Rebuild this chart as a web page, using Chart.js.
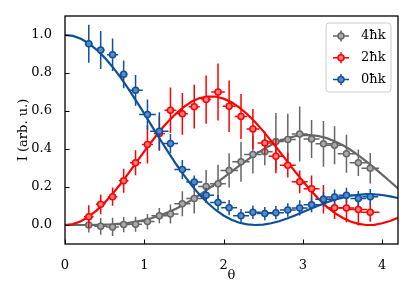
<!DOCTYPE html>
<html>
<head>
<meta charset="utf-8">
<script src="https://cdn.jsdelivr.net/npm/chart.js@4.4.1/dist/chart.umd.min.js"></script>
<style>
  html, body { margin: 0; padding: 0; background: #fff; }
</style>
</head>
<body>
<canvas id="chart" width="415" height="305"></canvas>
<script>
// measured points (theta positions shared by the three series)
const theta = [0.30, 0.45, 0.60, 0.74, 0.89, 1.04, 1.19, 1.33, 1.48, 1.63, 1.78, 1.93, 2.07,
               2.22, 2.37, 2.52, 2.66, 2.81, 2.96, 3.11, 3.26, 3.40, 3.55, 3.70, 3.85];

const gray = [0.000, -0.007, -0.010, 0.002, 0.004, 0.018, 0.049, 0.058, 0.112, 0.140, 0.203, 0.217, 0.287,
              0.333, 0.371, 0.385, 0.439, 0.450, 0.479, 0.453, 0.427, 0.420, 0.375, 0.328, 0.299];
const grayErr = [0.04, 0.044, 0.048, 0.04, 0.04, 0.04, 0.04, 0.05, 0.066, 0.08, 0.087, 0.10, 0.09,
                 0.105, 0.10, 0.07, 0.15, 0.135, 0.145, 0.10, 0.12, 0.10, 0.10, 0.07, 0.08];
const grayXErr = [0.08, 0.08, 0.08, 0.08, 0.08, 0.09, 0.1, 0.1, 0.1, 0.1, 0.1, 0.1, 0.11,
                  0.11, 0.11, 0.1, 0.1, 0.1, 0.1, 0.1, 0.1, 0.11, 0.11, 0.11, 0.11];

const red = [0.044, 0.109, 0.149, 0.233, 0.328, 0.424, 0.481, 0.604, 0.585, 0.623, 0.660, 0.700, 0.625,
             0.571, 0.505, 0.432, 0.362, 0.315, 0.227, 0.191, 0.135, 0.091, 0.089, 0.082, 0.067];
const redErr = [0.06, 0.052, 0.048, 0.063, 0.066, 0.10, 0.09, 0.12, 0.11, 0.115, 0.127, 0.15, 0.135,
                0.118, 0.105, 0.06, 0.09, 0.065, 0.06, 0.07, 0.075, 0.06, 0.075, 0.085, 0.05];
const redXErr = [0.06, 0.06, 0.06, 0.06, 0.07, 0.07, 0.07, 0.075, 0.07, 0.07, 0.06, 0.085, 0.08,
                 0.08, 0.08, 0.09, 0.09, 0.1, 0.1, 0.1, 0.1, 0.1, 0.1, 0.11, 0.115];

const blue = [0.954, 0.921, 0.896, 0.793, 0.709, 0.581, 0.494, 0.429, 0.292, 0.226, 0.156, 0.118, 0.091,
              0.049, 0.067, 0.060, 0.065, 0.079, 0.090, 0.107, 0.135, 0.147, 0.156, 0.139, 0.149];
const blueErr = [0.10, 0.10, 0.086, 0.073, 0.081, 0.08, 0.10, 0.05, 0.05, 0.035, 0.04, 0.04, 0.04,
                 0.035, 0.035, 0.035, 0.035, 0.035, 0.04, 0.04, 0.04, 0.04, 0.04, 0.04, 0.04];
const blueXErr = [0.05, 0.05, 0.07, 0.05, 0.09, 0.105, 0.115, 0.095, 0.1, 0.1, 0.1, 0.1, 0.1,
                  0.1, 0.1, 0.1, 0.1, 0.1, 0.1, 0.1, 0.1, 0.1, 0.1, 0.1, 0.1];

// fitted curves
const curveTheta = [0.0, 0.1, 0.2, 0.3, 0.4, 0.5, 0.6, 0.7, 0.8, 0.9, 1.0, 1.1, 1.2, 1.3, 1.4,
                    1.5, 1.6, 1.7, 1.8, 1.9, 2.0, 2.1, 2.2, 2.3, 2.4, 2.5, 2.6, 2.7, 2.8, 2.9,
                    3.0, 3.1, 3.2, 3.3, 3.4, 3.5, 3.6, 3.7, 3.8, 3.9, 4.0, 4.1, 4.2];
const grayFit = [0, 0, 0, 0, 0.001, 0.002, 0.004, 0.007, 0.011, 0.018, 0.026, 0.037, 0.051, 0.067, 0.086,
                 0.108, 0.132, 0.159, 0.187, 0.218, 0.249, 0.281, 0.312, 0.343, 0.372, 0.398, 0.421, 0.441, 0.456, 0.467,
                 0.473, 0.473, 0.468, 0.457, 0.441, 0.421, 0.396, 0.367, 0.335, 0.301, 0.265, 0.229, 0.193];
const redFit = [0, 0.005, 0.020, 0.044, 0.077, 0.117, 0.164, 0.216, 0.272, 0.330, 0.387, 0.443, 0.497, 0.545, 0.587,
                0.622, 0.650, 0.668, 0.676, 0.676, 0.665, 0.646, 0.618, 0.583, 0.541, 0.494, 0.443, 0.390, 0.336, 0.282,
                0.230, 0.181, 0.137, 0.097, 0.064, 0.038, 0.018, 0.006, 0.000, 0.001, 0.009, 0.021, 0.038];
const blueFit = [1.000, 0.995, 0.980, 0.956, 0.922, 0.881, 0.832, 0.777, 0.716, 0.652, 0.586, 0.518, 0.450, 0.385, 0.321,
                 0.262, 0.207, 0.158, 0.116, 0.079, 0.050, 0.028, 0.012, 0.003, 0.000, 0.002, 0.009, 0.020, 0.034, 0.050,
                 0.068, 0.085, 0.103, 0.119, 0.133, 0.144, 0.154, 0.159, 0.162, 0.161, 0.158, 0.151, 0.142];

const seriesLabels = ['4ħk', '2ħk', '0ħk'];
const xTicks = [0, 1, 2, 3, 4];
const yTicks = [0.0, 0.2, 0.4, 0.6, 0.8, 1.0];

const FONT = 'DejaVu Serif';
const series = [
    { label: seriesLabels[0], color: '#666666', fill: '#aaaaaa', y: gray, yErr: grayErr, xErr: grayXErr, fit: grayFit },
    { label: seriesLabels[1], color: '#ff0000', fill: '#ff7a7a', y: red, yErr: redErr, xErr: redXErr, fit: redFit },
    { label: seriesLabels[2], color: '#0f509b', fill: '#5b8bc6', y: blue, yErr: blueErr, xErr: blueXErr, fit: blueFit }
];

const datasets = [];
series.forEach((s, k) => {
    const depth = (series.length - 1 - k) * 2; // lower order draws on top
    datasets.push({
        type: 'scatter',
        label: s.label,
        data: theta.map((t, i) => ({ x: t, y: s.y[i] })),
        yErr: s.yErr,
        xErr: s.xErr,
        borderColor: s.color,
        backgroundColor: s.fill,
        pointRadius: 3,
        pointBorderWidth: 1.5,
        order: depth
    });
    datasets.push({
        type: 'line',
        label: s.label + ' fit',
        data: curveTheta.map((t, i) => ({ x: t, y: s.fit[i] })),
        borderColor: s.color,
        borderWidth: 2.2,
        pointRadius: 0,
        tension: 0,
        fill: false,
        order: depth + 1
    });
});

// draw error bars just before the markers of each dataset
const errorBars = {
    id: 'errorBars',
    beforeDatasetDraw(chart, args) {
        const ds = chart.data.datasets[args.index];
        if (!ds.yErr) return;
        const { ctx, chartArea: ca, scales: { x, y } } = chart;
        ctx.save();
        ctx.beginPath();
        ctx.rect(ca.left, ca.top, ca.width, ca.height);
        ctx.clip();
        ctx.strokeStyle = ds.borderColor;
        ctx.lineWidth = 1.5;
        ds.data.forEach((p, i) => {
            const px = x.getPixelForValue(p.x);
            const py = y.getPixelForValue(p.y);
            ctx.beginPath();
            ctx.moveTo(px, y.getPixelForValue(p.y - ds.yErr[i]));
            ctx.lineTo(px, y.getPixelForValue(p.y + ds.yErr[i]));
            ctx.moveTo(x.getPixelForValue(p.x - ds.xErr[i]), py);
            ctx.lineTo(x.getPixelForValue(p.x + ds.xErr[i]), py);
            ctx.stroke();
        });
        ctx.restore();
    }
};

// frame with inward ticks, then the legend box
const frame = {
    id: 'frame',
    afterDraw(chart) {
        const { ctx, chartArea: ca, scales: { x, y } } = chart;
        ctx.save();
        ctx.strokeStyle = '#000';
        ctx.lineWidth = 1;
        x.ticks.forEach(t => {
            const px = Math.round(x.getPixelForValue(t.value)) + 0.5;
            ctx.beginPath();
            ctx.moveTo(px, ca.bottom);
            ctx.lineTo(px, ca.bottom - 4.5);
            ctx.stroke();
        });
        y.ticks.forEach(t => {
            const py = Math.round(y.getPixelForValue(t.value)) + 0.5;
            ctx.beginPath();
            ctx.moveTo(ca.left, py);
            ctx.lineTo(ca.left + 4.5, py);
            ctx.stroke();
        });
        ctx.lineWidth = 1.3;
        ctx.strokeRect(ca.left, ca.top, ca.width, ca.height);

        // legend
        const w = 65, h = 69;
        const bx = ca.right - 7 - w, by = ca.top + 7;
        ctx.beginPath();
        ctx.roundRect(bx, by, w, h, 3);
        ctx.fillStyle = 'rgba(255,255,255,0.8)';
        ctx.fill();
        ctx.strokeStyle = '#cccccc';
        ctx.lineWidth = 1;
        ctx.stroke();
        series.forEach((s, k) => {
            const cy = by + 13 + k * 21.7;
            const cx = bx + 15;
            ctx.strokeStyle = s.color;
            ctx.lineWidth = 1.5;
            ctx.beginPath();
            ctx.moveTo(cx - 8, cy);
            ctx.lineTo(cx + 8, cy);
            ctx.moveTo(cx, cy - 5.5);
            ctx.lineTo(cx, cy + 5.5);
            ctx.stroke();
            ctx.beginPath();
            ctx.arc(cx, cy, 3, 0, Math.PI * 2);
            ctx.fillStyle = s.fill;
            ctx.fill();
            ctx.stroke();
            ctx.fillStyle = '#000';
            ctx.font = '13px "' + FONT + '"';
            ctx.textBaseline = 'middle';
            ctx.textAlign = 'left';
            ctx.fillText(s.label, bx + 35, cy);
        });
        ctx.restore();
    }
};

new Chart(document.getElementById('chart').getContext('2d'), {
    data: { datasets },
    options: {
        responsive: false,
        animation: false,
        devicePixelRatio: 1,
        layout: { padding: { top: 16, right: 17, left: 0, bottom: 0 } },
        plugins: {
            legend: { display: false },
            tooltip: { enabled: false }
        },
        scales: {
            x: {
                type: 'linear',
                min: 0,
                max: 4.2,
                afterFit(s) { s.height = 61; },
                afterBuildTicks(s) { s.ticks = xTicks.map(v => ({ value: v })); },
                grid: { display: false },
                border: { display: false },
                ticks: {
                    padding: 6,
                    color: '#000',
                    font: { family: FONT, size: 13 },
                    maxRotation: 0,
                    callback: v => String(v)
                },
                title: {
                    display: true,
                    text: 'θ',
                    color: '#000',
                    font: { family: FONT, size: 13 },
                    padding: { top: 0, bottom: 22 }
                }
            },
            y: {
                type: 'linear',
                min: -0.1,
                max: 1.1,
                afterFit(s) { s.width = 65; },
                afterBuildTicks(s) { s.ticks = yTicks.map(v => ({ value: v })); },
                grid: { display: false },
                border: { display: false },
                ticks: {
                    padding: 5,
                    color: '#000',
                    font: { family: FONT, size: 13 },
                    callback: v => v.toFixed(1)
                },
                title: {
                    display: true,
                    text: 'I (arb. u.)',
                    color: '#000',
                    font: { family: FONT, size: 13 },
                    padding: { top: 16, bottom: 0 }
                }
            }
        }
    },
    plugins: [errorBars, frame]
});
</script>
</body>
</html>
